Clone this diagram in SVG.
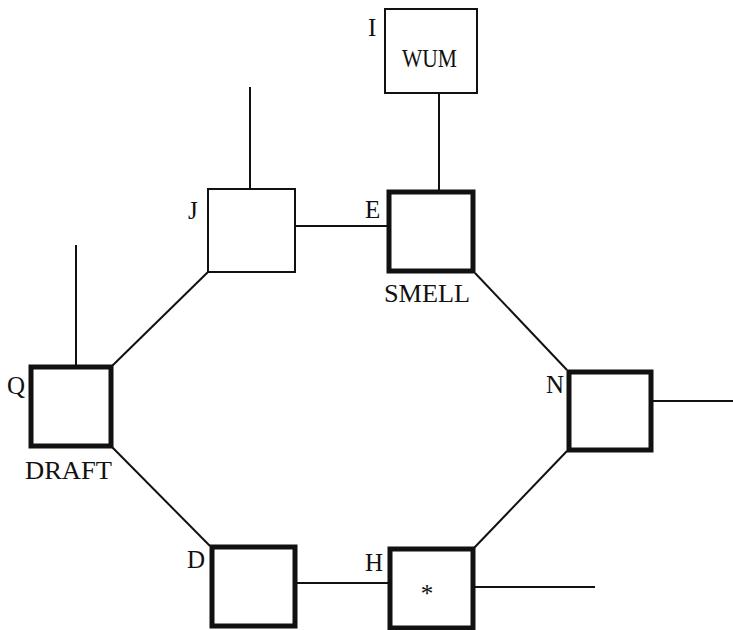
<svg xmlns="http://www.w3.org/2000/svg" width="733" height="630" viewBox="0 0 733 630">
<style>
.thin{fill:none;stroke:#111;stroke-width:2}
.thick{fill:none;stroke:#111;stroke-width:5}
.ln{fill:none;stroke:#111;stroke-width:2}
text{font-family:"Liberation Serif","DejaVu Serif",serif;font-size:25px;fill:#111}
</style>
<rect width="733" height="630" fill="#fff"/>
<g id="connectors">
<line class="ln" x1="439" y1="93" x2="439" y2="190"/>
<line class="ln" x1="250" y1="87" x2="250" y2="189"/>
<line class="ln" x1="295" y1="226" x2="387" y2="226"/>
<line class="ln" x1="76" y1="245" x2="76" y2="365"/>
<line class="ln" x1="112" y1="366" x2="208" y2="272"/>
<line class="ln" x1="112" y1="447" x2="210" y2="546"/>
<line class="ln" x1="475" y1="273" x2="567" y2="370"/>
<line class="ln" x1="567" y1="451" x2="474" y2="548"/>
<line class="ln" x1="652" y1="401" x2="733" y2="401"/>
<line class="ln" x1="296" y1="583" x2="388" y2="583"/>
<line class="ln" x1="474" y1="587" x2="595" y2="587"/>
</g>
<g id="I">
<rect class="thin" x="385" y="9" width="92" height="84"/>
<text x="368" y="36">I</text>
<text x="402" y="67" textLength="55" lengthAdjust="spacingAndGlyphs">WUM</text>
</g>
<g id="J">
<rect class="thin" x="208" y="189" width="87" height="83"/>
<text x="188" y="219">J</text>
</g>
<g id="E">
<rect class="thick" x="389" y="192" width="84" height="79"/>
<text x="365" y="218">E</text>
<text x="384" y="302" textLength="86" lengthAdjust="spacingAndGlyphs">SMELL</text>
</g>
<g id="Q">
<rect class="thick" x="31" y="367" width="80" height="79"/>
<text x="7" y="394">Q</text>
<text x="25" y="479" textLength="87" lengthAdjust="spacingAndGlyphs">DRAFT</text>
</g>
<g id="N">
<rect class="thick" x="569" y="372" width="82" height="78"/>
<text x="546" y="393">N</text>
</g>
<g id="D">
<rect class="thick" x="212" y="547" width="83" height="79"/>
<text x="187" y="568">D</text>
</g>
<g id="H">
<rect class="thick" x="390" y="549" width="83" height="79"/>
<text x="365" y="571">H</text>
<text x="427" y="602" text-anchor="middle" font-size="30">*</text>
</g>
</svg>
